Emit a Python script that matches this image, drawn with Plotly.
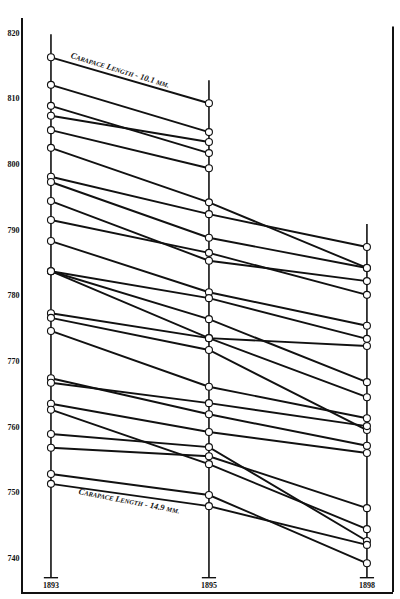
import plotly.graph_objects as go

# column labels (equally spaced on the plate)
YEARS = ["1893", "1895", "1898"]

# frontal breadth per carapace-length group
# first five groups stop at the second column
V1893 = [816.3, 812.1, 808.9, 807.4, 805.2, 802.5, 798.1, 797.3, 794.4, 791.5,
         788.3, 783.7, 783.7, 783.7, 777.3, 776.6, 774.6, 767.4, 766.7, 763.5,
         762.6, 758.9, 756.8, 752.8, 751.3]
V1895 = [809.3, 804.9, 801.7, 803.4, 799.4, 794.2, 792.4, 788.8, 785.3, 786.5,
         780.5, 779.6, 776.4, 773.5, 773.5, 771.7, 766.1, 761.9, 763.6, 759.2,
         754.3, 756.9, 755.5, 749.6, 747.9]
V1898 = [None, None, None, None, None, 784.2, 787.4, 784.2, 782.2, 780.1,
         775.4, 773.4, 766.8, 772.3, 764.5, 759.5, 761.3, 757.1, 760.1, 756.0,
         744.4, 742.6, 747.6, 739.2, 742.0]

Y_TICKS = [820, 810, 800, 790, 780, 770, 760, 750, 740]

FONT = "Liberation Serif, DejaVu Serif, serif"
INK = "#111111"
COLUMN_FOOT = 737.0

fig = go.Figure()

# columns
cols = [V1893, V1895, V1898]
for i, col in enumerate(cols):
    vals = [v for v in col if v is not None]
    fig.add_trace(go.Scatter(
        x=[i, i], y=[max(vals) + 3.5, COLUMN_FOOT], mode="lines",
        line=dict(color=INK, width=1.6), hoverinfo="skip", showlegend=False,
    ))
    fig.add_shape(type="line", x0=i - 0.045, x1=i + 0.045, y0=COLUMN_FOOT, y1=COLUMN_FOOT,
                  xref="x", yref="y", line=dict(color=INK, width=1.4))
    fig.add_annotation(x=i, y=COLUMN_FOOT, yanchor="top", yshift=-1, text=f"<b>{YEARS[i]}</b>",
                       showarrow=False, font=dict(family=FONT, size=8, color=INK))

# group lines
lx, ly, px, py = [], [], [], []
for a, b, c in zip(V1893, V1895, V1898):
    xs, ys = [0, 1], [a, b]
    if c is not None:
        xs.append(2)
        ys.append(c)
    lx += xs + [None]
    ly += ys + [None]
    px += xs
    py += ys

fig.add_trace(go.Scatter(
    x=lx, y=ly, mode="lines", line=dict(color=INK, width=1.9),
    hoverinfo="skip", showlegend=False,
))
fig.add_trace(go.Scatter(
    x=px, y=py, mode="markers",
    marker=dict(symbol="circle", size=7, color="white", line=dict(color=INK, width=1.1)),
    hovertemplate="%{y}<extra></extra>", showlegend=False,
))

sc = "font-size:6.5px"
fig.add_annotation(
    x=0.44, y=814.4, textangle=17, showarrow=False,
    text=f"<b><i>C<span style='{sc}'>ARAPACE</span> L<span style='{sc}'>ENGTH</span> - 10.1 <span style='{sc}'>MM.</span></i></b>",
    font=dict(family=FONT, size=8.5, color=INK),
)
fig.add_annotation(
    x=0.5, y=748.7, textangle=11, showarrow=False,
    text=f"<b><i>C<span style='{sc}'>ARAPACE</span> L<span style='{sc}'>ENGTH</span> - 14.9 <span style='{sc}'>MM.</span></i></b>",
    font=dict(family=FONT, size=8.5, color=INK),
)

# right side of the frame
fig.add_shape(type="line", xref="paper", yref="paper", x0=1, x1=1, y0=0, y1=0.985,
              line=dict(color=INK, width=2))

fig.update_layout(
    width=400, height=599,
    paper_bgcolor="white", plot_bgcolor="white",
    margin=dict(l=23, r=7, t=18, b=7),
    font=dict(family=FONT, color=INK),
    xaxis=dict(range=[-0.177, 2.165], showgrid=False, zeroline=False, showticklabels=False,
               showline=True, linecolor=INK, linewidth=2, ticks=""),
    yaxis=dict(range=[734.82, 822.29], showgrid=False, zeroline=False, automargin=False,
               tickvals=Y_TICKS, ticktext=[f"<b>{t}</b>" for t in Y_TICKS],
               tickfont=dict(family=FONT, size=8, color=INK), ticks="",
               showline=True, linecolor=INK, linewidth=2),
)

fig.write_html("out.html", config={"displayModeBar": False},
               post_script="document.body.style.margin='0';")
